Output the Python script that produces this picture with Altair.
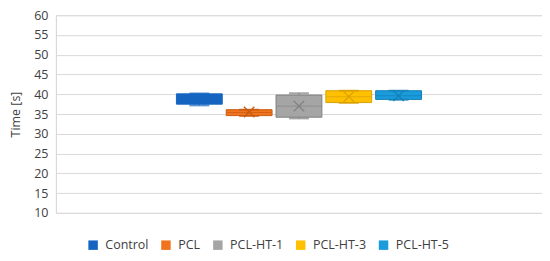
import altair as alt
import pandas as pd

groups = ["Control", "PCL", "PCL-HT-1", "PCL-HT-3", "PCL-HT-5"]
colors = ["#1565C0", "#F0731E", "#A5A5A5", "#FFC000", "#1A9BDC"]
dark = ["#1565C0", "#C85A10", "#7F7F7F", "#D9A000", "#1380B8"]
wmin = [37.2, 34.5, 33.9, 37.8, 38.6]
q1 = [37.5, 34.6, 34.2, 37.9, 38.7]
med = [39.0, 35.4, 37.0, 39.4, 39.6]
q3 = [40.1, 36.1, 39.8, 40.9, 40.9]
wmax = [40.2, 36.1, 40.25, 40.9, 40.9]
mean = [38.8, 35.5, 37.0, 39.4, 39.6]
yticks = [10, 15, 20, 25, 30, 35, 40, 45, 50, 55, 60]

df = pd.DataFrame({"group": groups, "wmin": wmin, "q1": q1, "med": med,
                   "q3": q3, "wmax": wmax, "mean": mean, "dark": dark})

xdomain = ["_a", "_b"] + groups + ["_c", "_d"]
xs = alt.X("group:N",
           scale=alt.Scale(domain=xdomain, paddingInner=0.08, paddingOuter=0.42),
           axis=None)
yscale = alt.Scale(domain=[10, 60], nice=False, zero=False)
yaxis = alt.Axis(values=yticks, title="Time [s]", labelOverlap=False,
                 titleFontWeight="normal", titleFontSize=12.5,
                 titleColor="#404040", titleFont="Open Sans",
                 labelFontSize=12.5, labelColor="#404040", labelFont="Open Sans",
                 grid=True, gridColor="#D9D9D9", domainColor="#D9D9D9",
                 ticks=False, labelPadding=8, titlePadding=11)


def Y(field):
    return alt.Y(field, scale=yscale, axis=yaxis, title="Time [s]")


color = alt.Color("group:N", sort=groups,
                  scale=alt.Scale(domain=groups, range=colors),
                  legend=alt.Legend(orient="none", legendX=31, legendY=224,
                                    title=None, symbolType="square",
                                    symbolSize=90, symbolStrokeWidth=0,
                                    labelFontSize=12.5, labelColor="#404040",
                                    labelFont="Open Sans", columnPadding=11,
                                    labelOffset=6, direction="horizontal"))

dcol = alt.Color("dark:N", scale=None)
base = alt.Chart(df)

boxes = base.mark_bar(strokeWidth=1, opacity=1).encode(
    x=xs, y=Y("q1:Q"), y2="q3:Q", color=color,
    stroke=alt.Stroke("dark:N", scale=None),
)
whisk_lo = base.mark_rule(strokeWidth=1).encode(x=xs, y=Y("wmin:Q"), y2="q1:Q", color=dcol)
whisk_hi = base.mark_rule(strokeWidth=1).encode(x=xs, y=Y("q3:Q"), y2="wmax:Q", color=dcol)
cap_lo = base.mark_tick(thickness=2, size=20).encode(x=xs, y=Y("wmin:Q"), color=dcol)
cap_hi = base.mark_tick(thickness=2, size=20).encode(x=xs, y=Y("wmax:Q"), color=dcol)
median = base.mark_tick(thickness=1, size=45).encode(x=xs, y=Y("med:Q"), color=dcol)
means = base.mark_point(shape="M-1,-1L1,1M-1,1L1,-1", size=110, strokeWidth=1.3,
                        filled=False, opacity=1).encode(x=xs, y=Y("mean:Q"), color=dcol)

chart = alt.layer(boxes, whisk_lo, whisk_hi, cap_lo, cap_hi, median, means).properties(
    width=487, height=198,
    autosize=alt.AutoSizeParams(type="none"),
    padding={"left": 48, "top": 7, "right": 0, "bottom": 40},
).configure_view(stroke=None).configure(background="white")

chart.save("out.html", embed_options={"renderer": "svg", "actions": False})
